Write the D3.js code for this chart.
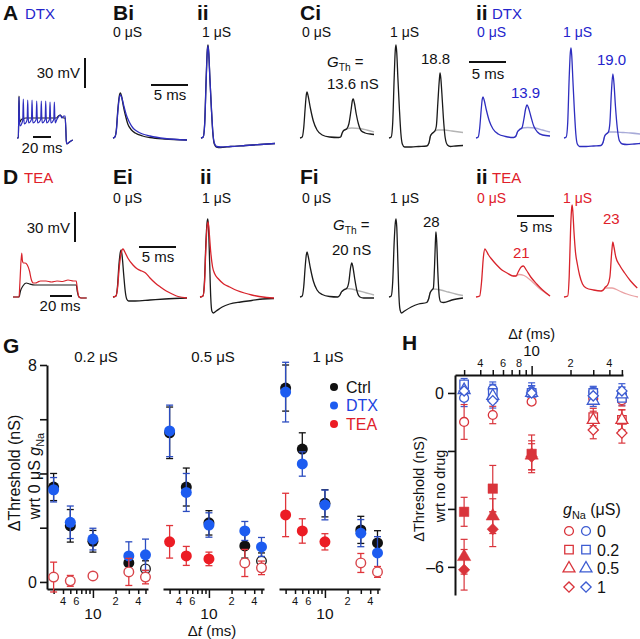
<!DOCTYPE html>
<html><head><meta charset="utf-8">
<script src="https://cdn.jsdelivr.net/npm/d3@7"></script>
<style>
body{margin:0;background:#fff}
svg{display:block}
text{font-family:"Liberation Sans",Arial,Helvetica,sans-serif}
</style>
</head><body>
<svg id="c" width="640" height="639"></svg>
<script>
// ================= DATA =================
// Voltage traces: [time (ms), depolarisation (mV) from rest]
const traceA_black = [[0,0],[1.5,0],[1.8,15],[2.2,42],[2.7,22],[3.3,16],[4.5,18],[6,19],[10,20],[20,20],[30,20],[40,20],[44,20],[46,22],[48,23],[50,21],[52,20],[53.5,20],[54.2,10],[54.8,-3],[55.5,-6],[57,-5],[60,-3],[62,-2]];
const traceA_dtx = [[0,0],[1.5,0],[1.8,15],[2.2,41],[2.7,20],[3.3,12],[5.5,15],[6.4,18],[7.0,39],[7.5,22],[8.1,14],[10.4,16],[11.3,19],[11.9,38],[12.4,22],[13.0,15],[15.2,17],[16.1,19],[16.7,38],[17.2,22],[17.8,15],[20.4,17],[21.3,19],[21.9,37],[22.4,22],[23.0,15],[25.5,17],[26.4,19],[27.0,37],[27.5,22],[28.1,15],[30.4,17],[31.3,19],[31.9,37],[32.4,22],[33.0,15],[35.2,17],[36.1,19],[36.7,36],[37.2,22],[37.8,15],[40.0,17],[40.9,19],[41.5,36],[42.0,22],[42.6,15],[44,18],[46,21],[48,23],[50,20],[52,22],[53.5,22],[54.2,10],[54.8,-3],[55.5,-6],[57,-5],[60,-3],[62,-2]];
const traceBi_black = [[0,0],[0.25,1],[0.45,8],[0.65,28],[0.85,42],[1.0,45],[1.15,42],[1.4,32],[1.7,22],[2.0,14],[2.5,8],[3.0,5],[4.0,2],[5,0.5],[7,-1],[10,-2]];
const traceBi_dtx = [[0,0],[0.25,1],[0.45,7],[0.65,26],[0.85,40],[1.0,43],[1.2,40],[1.5,31],[1.8,23],[2.2,16],[2.7,10],[3.3,6.5],[4.0,4],[5,2],[7,-0.5],[10,-2]];
const traceBii_black = [[0,0],[0.3,1],[0.5,15],[0.7,60],[0.85,88],[0.95,93],[1.05,85],[1.2,60],[1.4,30],[1.6,5],[1.8,-6],[2.1,-9],[2.6,-9.5],[4,-8.5],[6,-7.5],[8,-6.5],[10,-5.5]];
const traceBii_dtx = [[0,0],[0.3,1],[0.5,14],[0.7,58],[0.85,86],[0.95,92],[1.05,84],[1.2,60],[1.4,31],[1.6,6],[1.8,-5],[2.1,-8.5],[2.6,-9],[4,-8.5],[6,-7.5],[8,-6.5],[10,-5.5]];
const traceCi0 = [[0,0],[0.3,1],[0.5,10],[0.7,30],[0.85,43],[0.95,46],[1.1,42],[1.4,30],[1.8,17],[2.3,8],[3,3],[4,1],[5.2,0.5],[5.5,1],[5.7,5],[5.9,7.5],[6.3,9],[6.6,14],[6.9,28],[7.1,38],[7.2,39],[7.35,35],[7.6,24],[7.9,14],[8.3,7],[8.8,5],[9.5,4],[10,3.5]];
const traceCi0_sub = [[5.2,0.5],[5.5,1],[5.7,5],[5.9,7.5],[6.3,9],[7,10],[8,9.5],[9,8],[10,6]];
const traceCi1 = [[0,0],[0.3,1],[0.5,15],[0.7,60],[0.85,88],[0.95,93],[1.05,85],[1.2,60],[1.4,30],[1.6,5],[1.8,-6],[2.1,-9],[3,-9],[4,-8.5],[5.1,-8],[5.4,-5],[5.6,2],[5.9,5],[6.2,7],[6.4,12],[6.6,35],[6.8,58],[6.9,65],[7.0,60],[7.2,38],[7.4,15],[7.6,0],[7.9,-7],[8.3,-8.5],[9,-8],[10,-7.5]];
const traceCi1_sub = [[5.1,-8],[5.4,-5],[5.6,2],[5.9,5],[6.2,7],[6.6,8],[7.5,8],[8.5,7],[10,5.5]];
const traceCii0 = [[0,0],[0.3,1],[0.5,10],[0.7,28],[0.85,39],[0.95,41],[1.1,38],[1.4,28],[1.8,17],[2.3,9],[3,4],[4,1.5],[5.1,0.5],[5.4,2],[5.6,6],[5.9,8.5],[6.2,10],[6.45,18],[6.7,29],[6.9,33],[7.1,30],[7.4,22],[7.8,12],[8.3,6],[9,3],[10,2]];
const traceCii0_sub = [[5.1,0.5],[5.4,2],[5.6,6],[5.9,8.5],[6.2,10],[7,10.5],[8,10],[9,8],[10,6]];
const traceCii1 = [[0,0],[0.3,1],[0.5,15],[0.7,60],[0.85,85],[0.95,90],[1.05,82],[1.2,58],[1.4,28],[1.6,4],[1.8,-6],[2.1,-8.5],[3,-8.5],[4,-8],[5,-7.5],[5.3,-4],[5.5,2],[5.8,4.5],[6.0,6],[6.2,15],[6.4,45],[6.6,64],[6.75,55],[6.95,32],[7.2,10],[7.5,-3],[7.9,-6],[8.5,-6.5],[9.5,-6],[10.3,-5.5]];
const traceCii1_sub = [[5,-7.5],[5.3,-4],[5.5,2],[5.8,4.5],[6.1,6],[7,6],[8,5.5],[9,5],[10.3,4]];
const traceD_black = [[0,0],[5.5,0],[6.8,6],[9,11],[12,14],[15,13],[20,12],[25,12],[30,12],[40,12],[50,12],[57.5,12],[58.5,5],[60,0],[62,-1],[67,-1]];
const traceD_tea = [[0,0],[5.5,0],[6.3,15],[7.9,44],[8.6,36],[9.5,34],[11,34],[13,32],[15,26],[16.5,18],[18.5,14],[20.5,14],[22.5,15],[25,16],[30,16],[35,15],[40,16],[45,15.5],[50,17],[55,16],[57.5,16],[58.5,8],[60,0],[62,-1],[67,-1]];
const traceEi_black = [[0,0],[0.4,1],[0.6,10],[0.8,32],[1.0,45],[1.1,47],[1.25,40],[1.45,22],[1.65,6],[1.85,-2],[2.1,-4],[3,-4],[5,-3],[7,-2],[10,-1]];
const traceEi_tea = [[0,0],[0.4,1],[0.6,8],[0.85,30],[1.1,44],[1.35,48],[1.6,45],[2.0,39],[2.7,32],[3.3,28],[3.9,26],[4.4,24],[5.0,19],[5.7,14],[6.4,10],[7.2,6],[8,3],[8.8,0.5],[10,-1]];
const traceEii_black = [[0,0],[0.4,1],[0.6,15],[0.8,55],[0.95,74],[1.05,78],[1.15,70],[1.3,35],[1.45,0],[1.6,-14],[1.8,-16],[2.2,-14],[3,-10],[4,-7],[5.5,-5],[7,-3.5],[8.5,-2],[10,-1.5]];
const traceEii_tea = [[0,0],[0.4,1],[0.6,12],[0.8,50],[0.95,70],[1.1,75],[1.25,64],[1.45,45],[1.7,30],[2.0,23],[2.5,18],[3.2,13],[4,10],[5,6.5],[6,4],[7,2],[8,0.5],[9,-0.5],[10,-1]];
const traceFi0 = [[0,0],[0.3,1],[0.5,10],[0.7,30],[0.85,42],[0.95,45],[1.1,41],[1.4,29],[1.8,16],[2.3,7],[3,2.5],[4,0.5],[5.1,0],[5.4,2],[5.6,5],[5.9,7],[6.3,8.5],[6.6,15],[6.85,30],[7.0,34],[7.15,30],[7.4,18],[7.7,6],[8.1,0],[8.6,-1],[10,-1]];
const traceFi0_sub = [[5.1,0],[5.4,2],[5.6,5],[5.9,7],[6.3,8.5],[7,8],[8,6],[9,4],[10,2]];
const traceFi1 = [[0,0],[0.3,1],[0.5,15],[0.7,55],[0.85,74],[0.95,78],[1.05,70],[1.2,35],[1.35,0],[1.5,-13],[1.7,-16],[2.1,-14],[3,-10],[4,-7],[5.1,-5.5],[5.35,-2],[5.55,4],[5.8,7],[6.0,9],[6.15,30],[6.3,60],[6.35,65],[6.45,55],[6.6,25],[6.8,0],[7.0,-5],[7.4,-5.5],[8.5,-3],[10,-1]];
const traceFi1_sub = [[5.1,-5.5],[5.35,-2],[5.55,4],[5.8,7],[6.0,8],[7,7],[8,5],[9,3],[10,1.5]];
const traceFii0 = [[0,0],[0.5,1],[0.75,15],[1.0,40],[1.2,48],[1.4,46],[1.7,42],[2.1,38],[2.8,32],[3.5,27],[4.2,24],[5.0,21],[5.4,21],[5.7,25],[6.1,30],[6.4,31],[6.8,27],[7.4,20],[8.2,13],[9,7],[10,1]];
const traceFii0_sub = [[5.0,21],[5.4,21],[5.8,22.5],[6.5,21.5],[7.5,16],[8.5,9],[10,1]];
const traceFii1 = [[0,0],[0.5,1],[0.7,20],[0.9,70],[1.05,90],[1.1,92],[1.2,85],[1.35,65],[1.55,45],[1.8,33],[2.1,22],[2.5,13],[3.0,9],[4,7],[5,6],[5.3,7],[5.6,10],[5.9,12],[6.2,20],[6.45,45],[6.6,55],[6.75,50],[7.0,40],[7.5,32],[8.2,24],[9.0,16],[9.9,9]];
const traceFii1_sub = [[5,6],[5.3,7],[5.6,9],[6.5,9],[7.5,6],[8.5,3],[10,0]];

// Panel G: Δthreshold (nS) vs Δt (ms), one group per gNa
const dtG = [3, 5, 10, 30, 50];
const gNaGroups = ["0.2 μS", "0.5 μS", "1 μS"];
const ctrlMean = [[3.5,2.07,1.5,0.7,0.48],[5.5,3.5,2.18,1.33,0.77],[7.15,4.9,2.9,1.92,1.44]];
const ctrlErr  = [[0.5,0.6,0.4,0.35,0.3],[0.95,0.7,0.45,0.45,0.3],[0.85,0.6,0.5,0.5,0.45]];
const ctrlFilled = [[1,1,1,1,0],[1,1,1,1,0],[1,1,1,1,1]];
const dtxMean = [[3.4,2.2,1.58,0.96,1.0],[5.57,3.3,2.1,1.88,1.29],[7.0,4.35,2.84,1.8,1.07]];
const dtxErr  = [[0.45,0.6,0.4,0.52,0.58],[0.95,0.7,0.45,0.35,0.35],[1.1,0.45,0.55,0.5,0.6]];
const dtxFilled = [[1,1,1,1,1],[1,1,1,1,1],[1,1,1,1,1]];
const teaMean = [[0.18,0.04,0.22,0.37,0.18],[1.48,0.96,0.85,0.7,0.52],[2.47,1.88,1.48,0.7,0.37]];
const teaErr  = [[0.55,0.2,0.05,0.5,0.25],[0.6,0.35,0.25,0.5,0.25],[0.8,0.45,0.3,0.35,0.2]];
const teaFilled = [[0,0,0,0,0],[1,1,1,0,0],[1,1,1,0,0]];
const gLegend = ["Ctrl", "DTX", "TEA"];
const gYTicks = [0, 2, 4, 6, 8];
const gYLabels = ["0", "", "", "", "8"];

// Log-axis ticks shared by G and H
const logTicks = [3,4,5,6,7,8,9,10,20,30,40,50];
const gMinorLabels = [[4,"4"],[6,"6"],[20,"2"],[40,"4"]];
const hMinorLabels = [[4,"4"],[6,"6"],[8,"8"],[20,"2"],[40,"4"]];

// Panel H: Δthreshold (nS) wrt no drug
const dtH = [3, 5, 10, 30, 50];
const gNaH = ["0", "0.2", "0.5", "1"];
const teaH    = [[-1.0,-0.76,-0.3,-0.2,-0.25],[-4.1,-3.3,-2.1,-0.83,-0.93],[-5.65,-4.25,-2.15,-0.93,-0.93],[-6.1,-4.7,-2.2,-1.28,-1.38]];
const teaHErr = [[0.6,0.3,0.1,0.2,0.2],[0.5,0.8,0.65,0.3,0.35],[0.6,0.6,0.5,0.3,0.35],[0.7,0.6,0.45,0.3,0.35]];
const teaHFilled = [[0,0,0,0,0],[1,1,1,0,0],[1,1,1,0,0],[1,1,1,0,0]];
const dtxH    = [[-0.17,0.13,0.05,0.03,-0.05],[0.3,0.0,0.0,0.0,-0.17],[0.1,-0.1,0.0,-0.27,-0.05],[0.07,-0.27,0.0,-0.1,0.07]];
const dtxHErr = [[0.3,0.25,0.3,0.2,0.25],[0.2,0.3,0.25,0.2,0.25],[0.25,0.25,0.25,0.2,0.25],[0.25,0.25,0.25,0.2,0.25]];
const hYTicks = [0, -2, -4, -6];
const hYLabels = ["0", "", "", "\u20136"];

// ================= DRAWING =================
const svg = d3.select("#c");
const C = {k:"#1a1a1a", b:"#2e2ebf", r:"#d8232b", kg:"#b4b4b4", bg:"#a7aad8", rg:"#eaa2a4",
           gBlue:"#1d5cf0", gBlueE:"#2b4cc0", gRed:"#ec1c24", hRed:"#d9343b", hBlue:"#3d5cd2", txtBlue:"#2424cc", txtRed:"#e0202a"};

function text(x, y, s, o = {}) {
  const t = svg.append("text").attr("x", x).attr("y", y)
    .attr("font-size", o.size || 14).attr("fill", o.color || "#111")
    .attr("text-anchor", o.anchor || "start")
    .attr("font-weight", o.weight || "normal");
  if (o.rot) t.attr("transform", `rotate(-90 ${x} ${y})`);
  if (Array.isArray(s)) {
    s.forEach(p => {
      const sp = t.append("tspan").text(p.t);
      if (p.i) sp.attr("font-style", "italic");
      if (p.sub) sp.attr("font-size", (o.size || 14) * 0.68).attr("dy", p.dy);
      else if (p.dy) sp.attr("dy", p.dy);
    });
  } else t.text(s);
  return t;
}

function trace(data, x0, y0, pxPerMs, color, w = 1.3) {
  const xs = d3.scaleLinear().domain([0, 10]).range([x0, x0 + 10 * pxPerMs]);
  const ys = d3.scaleLinear().domain([0, 30]).range([y0, y0 - 30]);
  svg.append("path").datum(data)
    .attr("d", d3.line().x(d => xs(d[0])).y(d => ys(d[1])).curve(d3.curveMonotoneX))
    .attr("fill", "none").attr("stroke", color).attr("stroke-width", w)
    .attr("stroke-linejoin", "round");
}

function hbar(x1, x2, y) { svg.append("line").attr("x1", x1).attr("x2", x2).attr("y1", y).attr("y2", y).attr("stroke", "#111").attr("stroke-width", 2); }
function vbar(x, y1, y2) { svg.append("line").attr("x1", x).attr("x2", x).attr("y1", y1).attr("y2", y2).attr("stroke", "#111").attr("stroke-width", 2); }

const R1 = 138, R2 = 297, K = 7.4;

// ---- Row 1 labels ----
text(3, 20, "A", {size:21, weight:"bold"});
text(25, 19, "DTX", {size:15, color:C.txtBlue});
text(113, 20, "Bi", {size:21, weight:"bold"});
text(113, 37, "0 μS", {size:14});
text(197, 20, "ii", {size:21, weight:"bold"});
text(202, 37, "1 μS", {size:14});
text(300, 20, "Ci", {size:21, weight:"bold"});
text(302, 37, "0 μS", {size:14});
text(390, 37, "1 μS", {size:14});
text(476, 20, "ii", {size:21, weight:"bold"});
text(492, 19, "DTX", {size:15, color:C.txtBlue});
text(477, 37, "0 μS", {size:14, color:C.txtBlue});
text(563, 37, "1 μS", {size:14, color:C.txtBlue});
text(327, 67, [{t:"G", i:true},{t:"Th", sub:true, dy:4},{t:" =", dy:-4}], {size:15});
text(327, 89, "13.6 nS", {size:15});
text(421, 64, "18.8", {size:15});
text(511, 98, "13.9", {size:15, color:C.txtBlue});
text(597, 65, "19.0", {size:15, color:C.txtBlue});

// scale bars row 1
vbar(85, 58, 88); text(80, 78, "30 mV", {size:15, anchor:"end"});
hbar(33, 51, 137); text(42, 153, "20 ms", {size:15, anchor:"middle"});
hbar(151, 188, 85); text(170, 100, "5 ms", {size:15, anchor:"middle"});
hbar(469, 506, 62); text(488, 79, "5 ms", {size:15, anchor:"middle"});

// traces row 1
trace(traceA_black, 17, R1, 0.9, C.k, 1.2);
trace(traceA_dtx, 17, R1, 0.9, C.b, 1.2);
trace(traceBi_black, 113, R1, K, C.k);
trace(traceBi_dtx, 113, R1, K, C.b);
trace(traceBii_black, 201, R1, K, C.k);
trace(traceBii_dtx, 201, R1, K, C.b);
trace(traceCi0_sub, 300, R1, K, C.kg);
trace(traceCi0, 300, R1, K, C.k);
trace(traceCi1_sub, 389, R1, K, C.kg);
trace(traceCi1, 389, R1, K, C.k);
trace(traceCii0_sub, 476, R1, K, C.bg);
trace(traceCii0, 476, R1, K, C.b);
trace(traceCii1_sub, 564, R1, K, C.bg);
trace(traceCii1, 564, R1, K, C.b);

// ---- Row 2 labels ----
text(3, 184, "D", {size:21, weight:"bold"});
text(24, 183, "TEA", {size:15, color:C.txtRed});
text(113, 184, "Ei", {size:21, weight:"bold"});
text(113, 203, "0 μS", {size:14});
text(200, 184, "ii", {size:21, weight:"bold"});
text(202, 203, "1 μS", {size:14});
text(300, 184, "Fi", {size:21, weight:"bold"});
text(302, 203, "0 μS", {size:14});
text(390, 203, "1 μS", {size:14});
text(476, 184, "ii", {size:21, weight:"bold"});
text(492, 183, "TEA", {size:15, color:C.txtRed});
text(477, 203, "0 μS", {size:14, color:C.txtRed});
text(563, 203, "1 μS", {size:14, color:C.txtRed});
text(333, 230, [{t:"G", i:true},{t:"Th", sub:true, dy:4},{t:" =", dy:-4}], {size:15});
text(332, 255, "20 nS", {size:15});
text(423, 227, "28", {size:15});
text(513, 258, "21", {size:15, color:C.txtRed});
text(603, 224, "23", {size:15, color:C.txtRed});

vbar(75, 212, 242); text(70, 233, "30 mV", {size:15, anchor:"end"});
hbar(50, 72, 296); text(60, 311, "20 ms", {size:15, anchor:"middle"});
hbar(139, 176, 247); text(158, 262, "5 ms", {size:15, anchor:"middle"});
hbar(517, 554, 216); text(536, 232, "5 ms", {size:15, anchor:"middle"});

trace(traceD_black, 13, R2, 1.1, C.k, 1.2);
trace(traceD_tea, 13, R2, 1.1, C.r, 1.2);
trace(traceEi_black, 113, R2, K, C.k);
trace(traceEi_tea, 113, R2, K, C.r);
trace(traceEii_black, 200, R2, K, C.k);
trace(traceEii_tea, 200, R2, K, C.r);
trace(traceFi0_sub, 300, R2, K, C.kg);
trace(traceFi0, 300, R2, K, C.k);
trace(traceFi1_sub, 389, R2, K, C.kg);
trace(traceFi1, 389, R2, K, C.k);
trace(traceFii0_sub, 476, R2, K, C.rg);
trace(traceFii0, 476, R2, K, C.r);
trace(traceFii1_sub, 564, R2, K, C.rg);
trace(traceFii1, 564, R2, K, C.r);

// ================= PANEL G =================
text(3, 353, "G", {size:21, weight:"bold"});
const gY = d3.scaleLinear().domain([-0.26, 8]).range([589, 365]);
const gAxisY = svg.append("g").attr("transform", "translate(47,0)")
  .call(d3.axisLeft(gY).tickValues(gYTicks).tickFormat("").tickSize(7).tickSizeOuter(0));
gAxisY.select(".domain").attr("stroke", "#111").attr("stroke-width", 2);
gAxisY.selectAll(".tick line").attr("stroke", "#111").attr("stroke-width", 1.6);
gYTicks.forEach((v, i) => { if (gYLabels[i]) text(37, gY(v) + 6, gYLabels[i], {size:16, anchor:"end"}); });

text(20, 473, "ΔThreshold (nS)", {size:16, anchor:"middle", rot:true});
text(40, 476, [{t:"wrt 0 μS "},{t:"g", i:true},{t:"Na", sub:true, dy:4}], {size:16, anchor:"middle", rot:true});

const subX0 = [47, 163, 279];
const gXs = subX0.map(x0 => d3.scaleLog().domain([2.45, 54]).range([x0, x0 + 101]));
const gGroupLabelX = [96, 213, 328];
gXs.forEach((xs, gi) => {
  const ax = svg.append("g").attr("transform", "translate(0,589)")
    .call(d3.axisBottom(xs).tickValues(logTicks).tickFormat("").tickSize(5).tickSizeOuter(0));
  ax.select(".domain").attr("stroke", "#111").attr("stroke-width", 2);
  ax.selectAll(".tick line").attr("stroke", "#111").attr("stroke-width", 1.5)
    .attr("y2", d => d === 10 ? 9 : 5);
  gMinorLabels.forEach(([v, s]) => text(xs(v), 605, s, {size:11, anchor:"middle"}));
  text(xs(10), 619, "10", {size:15.5, anchor:"middle"});
  text(gGroupLabelX[gi], 362, gNaGroups[gi], {size:15, anchor:"middle"});
});
text(212, 636, [{t:"Δ"},{t:"t", i:true},{t:" (ms)"}], {size:15, anchor:"middle"});

function errBar(x, y1, y2, color, w = 1.3, cap = 3.5) {
  svg.append("line").attr("x1", x).attr("x2", x).attr("y1", y1).attr("y2", y2).attr("stroke", color).attr("stroke-width", w);
  [y1, y2].forEach(y => svg.append("line").attr("x1", x - cap).attr("x2", x + cap).attr("y1", y).attr("y2", y).attr("stroke", color).attr("stroke-width", w));
}

const gSeries = [
  {mean: ctrlMean, err: ctrlErr, filled: ctrlFilled, color: "#111", ecolor: "#111", open: "#222"},
  {mean: dtxMean, err: dtxErr, filled: dtxFilled, color: C.gBlue, ecolor: C.gBlueE, open: C.gBlue},
  {mean: teaMean, err: teaErr, filled: teaFilled, color: C.gRed, ecolor: "#e0343a", open: "#d8454b"}
];
gSeries.forEach(s => {
  gXs.forEach((xs, gi) => {
    dtG.forEach((dt, j) => {
      const m = s.mean[gi][j], e = s.err[gi][j];
      if (e > 0.06) errBar(xs(dt), gY(m + e), gY(m - e), s.ecolor);
    });
    dtG.forEach((dt, j) => {
      const m = s.mean[gi][j];
      const f = s.filled[gi][j];
      svg.append("circle").attr("cx", xs(dt)).attr("cy", gY(m))
        .attr("r", f ? 5.5 : 4.8)
        .attr("fill", f ? s.color : "#fff")
        .attr("stroke", f ? "none" : s.open).attr("stroke-width", 1.4);
    });
  });
});

// legend G
const gLegColors = ["#111", C.gBlue, C.gRed];
const gLegTxt = ["#111", "#1d44e0", C.txtRed];
gLegend.forEach((s, i) => {
  const y = 387 + i * 18.5;
  svg.append("circle").attr("cx", 334).attr("cy", y).attr("r", 4).attr("fill", gLegColors[i]);
  text(346, y + 5.5, s, {size:16, color:gLegTxt[i]});
});

// ================= PANEL H =================
text(402, 350, "H", {size:21, weight:"bold"});
const hX = d3.scaleLog().domain([2.55, 51]).range([455, 623]);
const hY = d3.scaleLinear().domain([0.62, -6.97]).range([375, 595]);
const hAxX = svg.append("g").attr("transform", "translate(0,375)")
  .call(d3.axisTop(hX).tickValues(logTicks).tickFormat("").tickSize(5).tickSizeOuter(0));
hAxX.select(".domain").attr("stroke", "#111").attr("stroke-width", 2);
hAxX.selectAll(".tick line").attr("stroke", "#111").attr("stroke-width", 1.5).attr("y2", d => d === 10 ? -9 : -5);
hMinorLabels.forEach(([v, s]) => text(hX(v), 367, s, {size:11, anchor:"middle"}));
text(hX(10), 356, "10", {size:15, anchor:"middle"});
text(hX(10), 339, [{t:"Δ"},{t:"t", i:true},{t:" (ms)"}], {size:14.5, anchor:"middle"});

const hAxY = svg.append("g").attr("transform", "translate(455,0)")
  .call(d3.axisLeft(hY).tickValues(hYTicks).tickFormat("").tickSize(7).tickSizeOuter(0));
hAxY.select(".domain").attr("stroke", "#111").attr("stroke-width", 2);
hAxY.selectAll(".tick line").attr("stroke", "#111").attr("stroke-width", 1.6);
hYTicks.forEach((v, i) => { if (hYLabels[i]) text(444, hY(v) + 6, hYLabels[i], {size:16, anchor:"end"}); });
text(424, 489, "ΔThreshold (nS)", {size:14.5, anchor:"middle", rot:true});
text(445, 486, "wrt no drug", {size:14.5, anchor:"middle", rot:true});

const shapeTypes = [d3.symbolCircle, d3.symbolSquare, d3.symbolTriangle, d3.symbolSquare];
const shapeSizes = [62, 72, 62, 52];
const shapeRot = [0, 0, 0, 45];
function marker(x, y, k, color, filled, scale = 1) {
  svg.append("path")
    .attr("d", d3.symbol().type(shapeTypes[k]).size(shapeSizes[k] * scale * (filled ? 1.25 : 1))())
    .attr("transform", `translate(${x},${y}) rotate(${shapeRot[k]})`)
    .attr("fill", filled ? color : "#fff")
    .attr("stroke", color).attr("stroke-width", filled ? 0.5 : 1.3);
}
// DTX (blue, open) error bars
gNaH.forEach((g, k) => dtH.forEach((dt, j) => {
  const m = dtxH[k][j], e = dtxHErr[k][j];
  errBar(hX(dt), hY(m + e), hY(m - e), C.hBlue, 1.2, 3.5);
}));
// TEA error bars
gNaH.forEach((g, k) => dtH.forEach((dt, j) => {
  const m = teaH[k][j], e = teaHErr[k][j];
  if (e > 0.12) errBar(hX(dt), hY(m + e), hY(m - e), C.hRed, 1.2, 3.5);
}));
gNaH.forEach((g, k) => dtH.forEach((dt, j) => marker(hX(dt), hY(teaH[k][j]), k, C.hRed, teaHFilled[k][j])));
gNaH.forEach((g, k) => dtH.forEach((dt, j) => marker(hX(dt), hY(dtxH[k][j]), k, C.hBlue, 0)));

// legend H
text(563, 515, [{t:"g", i:true},{t:"Na", sub:true, dy:4},{t:" (μS)", dy:-4}], {size:16});
gNaH.forEach((g, k) => {
  const y = 531 + k * 18.7;
  marker(569, y, k, C.hRed, 0);
  marker(586, y, k, C.hBlue, 0);
  text(597, y + 6, g, {size:16});
});
</script>
</body></html>
